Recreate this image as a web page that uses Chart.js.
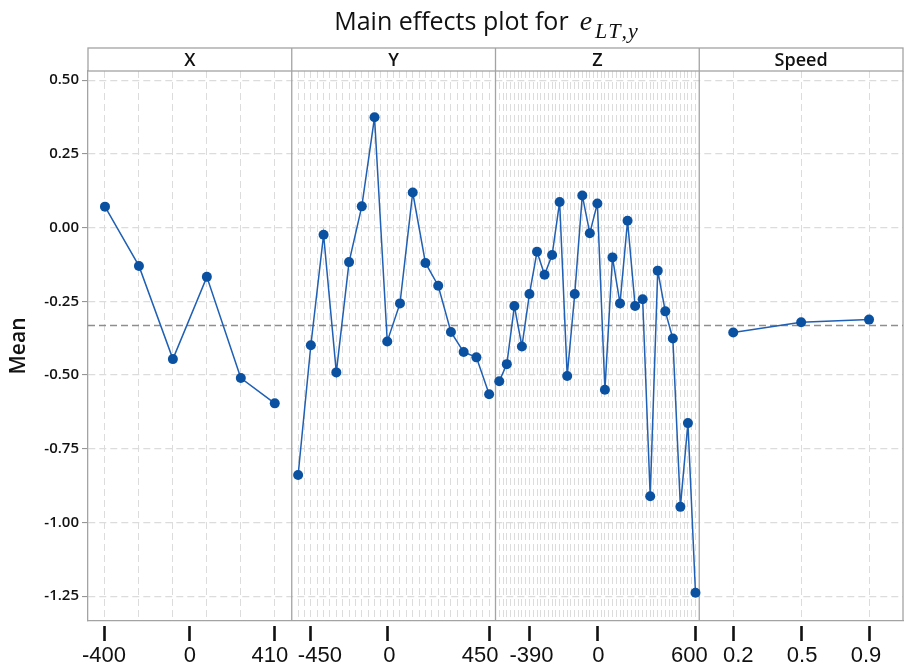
<!DOCTYPE html>
<html>
<head>
<meta charset="utf-8">
<script src="https://cdn.jsdelivr.net/npm/chart.js@4.4.1/dist/chart.umd.min.js"></script>
<style>
  html, body { margin: 0; padding: 0; background: #ffffff; }
  canvas { display: block; }
</style>
</head>
<body>
<canvas id="chart" width="905" height="668"></canvas>
<script>
// Factor panels and the mean response at each level
const panelNames = ['X', 'Y', 'Z', 'Speed'];

const xMeans = [0.071, -0.130, -0.446, -0.167, -0.510, -0.596];
const yMeans = [-0.839, -0.399, -0.024, -0.491, -0.117, 0.072, 0.374, -0.386,
                -0.257, 0.119, -0.120, -0.197, -0.354, -0.422, -0.440, -0.565];
const zMeans = [-0.521, -0.463, -0.266, -0.403, -0.225, -0.082, -0.160, -0.093, 0.087,
                -0.503, -0.225, 0.109, -0.019, 0.082, -0.550, -0.101, -0.257, 0.023,
                -0.266, -0.243, -0.911, -0.146, -0.284, -0.376, -0.947, -0.663, -1.238];
const speedMeans = [-0.356, -0.321, -0.312];

// Overall mean of the response (reference line)
const grandMean = -0.332;

// Labelled levels on each factor axis (level index within the factor)
const xTickLabels = ['-400', '0', '410'];
const xTickLevels = [0, 2.5, 5];
const yTickLabels = ['-450', '0', '450'];
const yTickLevels = [1, 7, 15];
const zTickLabels = ['-390', '0', '600'];
const zTickLevels = [4, 13, 26];
const speedTickLabels = ['0.2', '0.5', '0.9'];
const speedTickLevels = [0, 1, 2];

// Value axis ticks
const meanTicks = [0.5, 0.25, 0, -0.25, -0.5, -0.75, -1.0, -1.25];

const panelMeans = [xMeans, yMeans, zMeans, speedMeans];
const panelTickLabels = [xTickLabels, yTickLabels, zTickLabels, speedTickLabels];
const panelTickLevels = [xTickLevels, yTickLevels, zTickLevels, speedTickLevels];
const panelGridStep = [1, 0.5, 0.5, 1];

// Each panel takes one unit of the shared x axis; levels sit at the centres of equal slots.
function levelPos(panel, level) {
  return panel + (level + 0.5) / panelMeans[panel].length;
}

const gridPositions = [];
panelMeans.forEach((means, p) => {
  for (let l = 0; l <= means.length - 1 + 1e-9; l += panelGridStep[p]) {
    gridPositions.push(levelPos(p, l));
  }
});

const labelTicks = [];
panelTickLabels.forEach((labels, p) => {
  labels.forEach((text, k) => labelTicks.push({ value: levelPos(p, panelTickLevels[p][k]), label: text }));
});

const SANS = '"Open Sans", "Noto Sans", sans-serif';
const AXIS_FONT = '22px "Liberation Sans", Arial, sans-serif';
// horizontal nudges (px) that keep neighbouring factor labels apart
const LABEL_NUDGE = [-1, 0, -5, 9, 2, -9, 2, 1, -6, 5, 1, -3];
const LINE_BLUE = '#1f5fb4';
const POINT_BLUE = '#0a51a1';
const FRAME = '#a3a3a3';
const GRID = '#dcdcdc';

const datasets = panelMeans.map((means, p) => ({
  label: panelNames[p],
  data: means.map((m, i) => ({ x: levelPos(p, i), y: m })),
  borderColor: LINE_BLUE,
  borderWidth: 1.5,
  pointRadius: 5,
  pointHoverRadius: 5,
  pointBackgroundColor: POINT_BLUE,
  pointBorderWidth: 0,
  tension: 0,
  xAxisID: 'x',
  yAxisID: 'y',
  order: 0
}));

datasets.push({
  label: 'Mean of response',
  data: [{ x: 0, y: grandMean }, { x: 4, y: grandMean }],
  borderColor: '#8e8e8e',
  borderWidth: 1.3,
  borderDash: [7, 4],
  pointRadius: 0,
  xAxisID: 'x',
  yAxisID: 'y',
  order: 10
});

// Title, factor strip, panel dividers and factor level labels
const panelFrame = {
  id: 'panelFrame',
  beforeDatasetsDraw(chart) {
    const { ctx, chartArea: a, scales: { x } } = chart;
    ctx.save();
    ctx.strokeStyle = FRAME;
    ctx.lineWidth = 1.3;
    ctx.setLineDash([]);
    for (let p = 1; p < panelNames.length; p++) {
      const px = x.getPixelForValue(p);
      ctx.beginPath();
      ctx.moveTo(px, a.top);
      ctx.lineTo(px, a.bottom);
      ctx.stroke();
    }
    ctx.beginPath();
    ctx.moveTo(a.right, a.top);
    ctx.lineTo(a.right, a.bottom);
    ctx.stroke();
    ctx.restore();
  },
  afterDraw(chart) {
    const { ctx, chartArea: a, scales: { x, xl } } = chart;
    const stripTop = 48;
    ctx.save();
    ctx.setLineDash([]);
    ctx.strokeStyle = FRAME;
    ctx.lineWidth = 1.3;
    ctx.strokeRect(a.left, stripTop, a.right - a.left, a.top - stripTop);
    for (let p = 1; p < panelNames.length; p++) {
      const px = x.getPixelForValue(p);
      ctx.beginPath();
      ctx.moveTo(px, stripTop);
      ctx.lineTo(px, a.top);
      ctx.stroke();
    }
    ctx.fillStyle = '#111';
    ctx.font = '600 18px ' + SANS;
    ctx.textAlign = 'center';
    ctx.textBaseline = 'middle';
    panelNames.forEach((name, p) => {
      ctx.fillText(name, x.getPixelForValue(p + 0.5), (stripTop + a.top) / 2 + 1);
    });

    // factor level labels under the tick marks
    ctx.font = AXIS_FONT;
    ctx.textBaseline = 'alphabetic';
    labelTicks.forEach((t, i) => {
      ctx.fillText(t.label, xl.getPixelForValue(t.value) + LABEL_NUDGE[i], xl.top + 36);
    });

    // Title: plain text followed by the italic symbol e with subscript LT,y
    const main = 'Main effects plot for';
    const fMain = '500 25px ' + SANS;
    const fSym = 'italic 28px "Liberation Serif", "DejaVu Serif", serif';
    const fSub = 'italic 22px "Liberation Serif", "DejaVu Serif", serif';
    const sub = ['L', 'T', ',', 'y'];
    const subGap = 1;
    const symGap = 11;
    ctx.textAlign = 'left';
    ctx.font = fMain; const w1 = ctx.measureText(main).width;
    ctx.font = fSym; const w2 = ctx.measureText('e').width;
    ctx.font = fSub;
    const subW = sub.map(c => ctx.measureText(c).width);
    const w3 = subW.reduce((s, w) => s + w, 0) + subGap * (sub.length - 1);
    let tx = 486 - (w1 + symGap + w2 + 3 + w3) / 2;
    const base = 30;
    ctx.font = fMain; ctx.fillText(main, tx, base); tx += w1 + symGap;
    ctx.font = fSym; ctx.fillText('e', tx, base); tx += w2 + 3;
    ctx.font = fSub;
    sub.forEach((c, k) => { ctx.fillText(c, tx, base + 8); tx += subW[k] + subGap; });
    ctx.restore();
  }
};

new Chart(document.getElementById('chart'), {
  type: 'line',
  data: { datasets },
  options: {
    responsive: false,
    animation: false,
    devicePixelRatio: 1,
    layout: { autoPadding: false, padding: { left: 0, right: 2, top: 71, bottom: 0 } },
    plugins: {
      legend: { display: false },
      title: { display: false },
      tooltip: { enabled: false }
    },
    scales: {
      x: {
        type: 'linear',
        min: 0, max: 4,
        position: 'bottom',
        weight: 0,
        afterBuildTicks: s => { s.ticks = gridPositions.map(v => ({ value: v })); },
        afterFit: s => { s.height = 5; s.paddingLeft = 0; s.paddingRight = 0; },
        ticks: { display: false },
        grid: { color: GRID, lineWidth: 1, drawTicks: false },
        border: { display: true, color: FRAME, width: 1.3, dash: [7, 4] }
      },
      xl: {
        type: 'linear',
        min: 0, max: 4,
        position: 'bottom',
        weight: 1,
        afterBuildTicks: s => { s.ticks = labelTicks.map(t => ({ value: t.value })); },
        afterFit: s => { s.height = 42; s.paddingLeft = 0; s.paddingRight = 0; },
        ticks: { display: false, autoSkip: false },
        grid: { drawOnChartArea: false, drawTicks: true, tickLength: 15, tickWidth: 2.6, tickColor: '#111', color: '#111' },
        border: { display: false }
      },
      y: {
        type: 'linear',
        min: -1.334, max: 0.531,
        position: 'left',
        afterBuildTicks: s => { s.ticks = meanTicks.map(v => ({ value: v })); },
        afterFit: s => { s.width = 88; s.paddingTop = 0; s.paddingBottom = 0; },
        ticks: {
          color: '#111',
          padding: 3,
          font: { family: SANS, size: 15, weight: '600' },
          callback: v => v.toFixed(2)
        },
        grid: { color: GRID, lineWidth: 1.2, tickLength: 6, tickColor: '#8c8c8c', tickWidth: 1, tickBorderDash: [] },
        border: { display: true, color: FRAME, width: 1.3, dash: [7, 4] },
        title: {
          display: true,
          text: 'Mean',
          color: '#111',
          font: { family: SANS, size: 21, weight: '600' },
          padding: { top: 6, bottom: 0 }
        }
      }
    }
  },
  plugins: [panelFrame]
});
</script>
</body>
</html>
